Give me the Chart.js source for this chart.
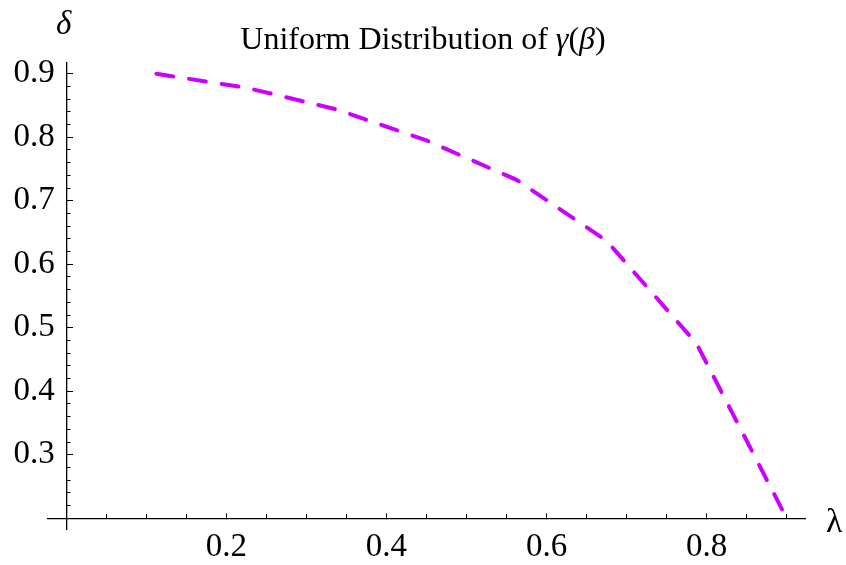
<!DOCTYPE html>
<html>
<head>
<meta charset="utf-8">
<script src="https://cdn.jsdelivr.net/npm/chart.js@4.4.1/dist/chart.umd.min.js"></script>
<style>
  body { margin: 0; background: #fff; }
  #contenedor { position: relative; width: 846px; height: 565px; }
  #grafico { display: block; }
  .texto { position: absolute; font-family: "Liberation Serif", serif; color: #000; line-height: 1; white-space: nowrap; }
  #titulo { font-size: 32px; left: 0; width: 846px; text-align: center; top: 22px; }
  #eje-y { font-size: 33px; font-style: italic; left: 56px; top: 7px; }
  #eje-x { font-size: 34px; left: 826px; top: 504px; }
</style>
</head>
<body>
<div id="contenedor">
  <canvas id="grafico" width="846" height="565"></canvas>
  <div class="texto" id="titulo">Uniform Distribution of <i>γ</i>(<i>β</i>)</div>
  <div class="texto" id="eje-y">δ</div>
  <div class="texto" id="eje-x">λ</div>
</div>
<script>
// datos
const lambdaValores = [0.1125, 0.225, 0.3375, 0.45, 0.5625, 0.675, 0.7875, 0.9];
const deltaValores = [0.900, 0.878, 0.844, 0.795, 0.733, 0.637, 0.475, 0.200];

const ticksX = [0.2, 0.4, 0.6, 0.8];
const ticksY = [0.3, 0.4, 0.5, 0.6, 0.7, 0.8, 0.9];

const fuenteTicks = { family: "Liberation Serif", size: 33 };

function sinAlto(scale) { scale.height = 0; }
function sinAncho(scale) { scale.width = 0; }

function etiqueta(lista) {
    return function (value) {
        return lista.some(t => Math.abs(t - value) < 1e-6) ? value.toFixed(1) : "";
    };
}

function ejeX(paso, largo, extra) {
    return Object.assign({
        type: "linear",
        position: { y: 0.2 },
        min: -0.023,
        max: 0.923,
        border: { display: false },
        grid: { drawOnChartArea: false, tickLength: largo, tickColor: "#000", tickWidth: 1 },
        ticks: { display: false, stepSize: paso, includeBounds: false },
        afterFit: sinAlto
    }, extra || {});
}

function ejeY(paso, largo, extra) {
    return Object.assign({
        type: "linear",
        position: { x: 0 },
        min: 0.183,
        max: 0.917,
        border: { display: false },
        grid: { drawOnChartArea: false, tickLength: largo, tickColor: "#000", tickWidth: 1 },
        ticks: { display: false, stepSize: paso, includeBounds: false },
        afterFit: sinAncho
    }, extra || {});
}

const ctx = document.getElementById("grafico").getContext("2d");
new Chart(ctx, {
    type: "line",
    data: {
        datasets: [{
            data: lambdaValores.map((x, i) => ({ x: x, y: deltaValores[i] })),
            borderColor: "#cc00ff",
            borderWidth: 4,
            borderDash: [17, 16],
            borderCapStyle: "round",
            pointRadius: 0,
            fill: false,
            tension: 0,
            xAxisID: "x",
            yAxisID: "y"
        }]
    },
    options: {
        responsive: false,
        devicePixelRatio: 1,
        animation: false,
        layout: { padding: { left: 48, right: 41, top: 63, bottom: 36 } },
        plugins: { legend: { display: false }, tooltip: { enabled: false } },
        scales: {
            x: ejeX(0.2, -6, {
                border: { display: true, color: "#000", width: 1.3 },
                ticks: {
                    display: true, stepSize: 0.2, includeBounds: false, padding: 15,
                    color: "#000", font: fuenteTicks, maxRotation: 0, autoSkip: false,
                    callback: etiqueta(ticksX)
                }
            }),
            xMenor: ejeX(0.05, -4),
            y: ejeY(0.1, -7, { border: { display: true, color: "#000", width: 1.3 } }),
            yMenor: ejeY(0.02, -4.5),
            yEtiquetas: ejeY(0.1, 0, {
                position: { x: -0.0146 },
                grid: { display: false, drawOnChartArea: false },
                ticks: {
                    display: true, stepSize: 0.1, includeBounds: false,
                    color: "#000", font: fuenteTicks, autoSkip: false,
                    callback: etiqueta(ticksY)
                }
            })
        }
    }
});
</script>
</body>
</html>
